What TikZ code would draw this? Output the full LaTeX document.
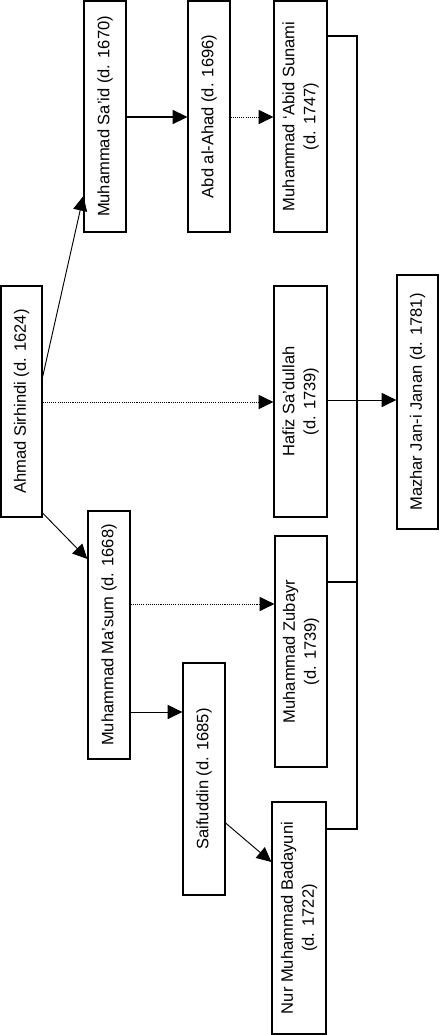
\documentclass[tikz,border=0pt]{standalone}
\usepackage{fontspec}
\setmainfont{Liberation Sans}
\usetikzlibrary{arrows.meta}

\tikzset{
  person/.style 2 args={draw, line width=0.9pt, rotate=90, align=center, inner sep=0pt,
    minimum width=#1*0.75pt, minimum height=#2*0.75pt,
    font=\fontsize{12.4}{15.75}\selectfont},
  tip/.style={-{Triangle[length=11pt,width=10.5pt]}, line width=0.7pt},
  faint/.style={dash pattern=on 0.8pt off 0.8pt},
  bus/.style={line width=0.9pt}
}

\begin{document}
\begin{tikzpicture}[x=0.75pt,y=-0.75pt]
        \useasboundingbox (0,0) rectangle (440,1035);

        \node[person={231}{42}] (said) at (105,116.5) {Muhammad Sa’id (d. 1670)};
        \node[person={231}{42}] (ahad) at (209,116.5) {Abd al-Ahad (d. 1696)};
        \node[person={231}{53}] (sunami) at (300.5,116.5) {Muhammad ‘Abid Sunami\\(d. 1747)};
        \node[person={231}{41}] (sirhindi) at (21.5,401.5) {Ahmad Sirhindi (d. 1624)};
        \node[person={231}{53}] (hafiz) at (300.5,401.5) {Hafiz Sa’dullah\\(d. 1739)};
        \node[person={254}{41}] (mazhar) at (417.5,402) {Mazhar Jan-i Janan (d. 1781)};
        \node[person={248}{42}] (masum) at (109,635) {Muhammad Ma’sum (d. 1668)};
        \node[person={231}{52}] (zubayr) at (301,651.5) {Muhammad Zubayr\\(d. 1739)};
        \node[person={232}{42}] (saif) at (204,779) {Saifuddin (d. 1685)};
        \node[person={232}{54}] (nur) at (299,918) {Nur Muhammad Badayuni\\(d. 1722)};

        \coordinate (top) at (357,36);
        \coordinate (mid) at (357,582);
        \coordinate (bottom) at (357,829);

        % lines of descent
        \path [tip] (sirhindi.south |- 0,377) edge (said.north |- 0,196);
        \path [tip, line width=1.2pt] (said.south |- 0,117) edge (ahad.north |- 0,117);
        \path [tip, faint] (ahad.south |- 0,117) edge (sunami.north |- 0,117);
        \path [tip, faint] (sirhindi.south |- 0,402) edge (hafiz.north |- 0,402);
        \path [tip] (sirhindi.south |- 0,513) edge (masum.north |- 0,559);
        \path [tip, faint] (masum.south |- 0,604) edge (zubayr.north |- 0,604);
        \path [tip] (masum.south |- 0,712) edge (saif.north |- 0,712);
        \path [tip] (saif.south |- 0,823) edge (nur.north |- 0,862);

        % joined to Mazhar
        \draw [bus] (sunami.south |- top) -- (top) -- (bottom) -- (nur.south |- bottom);
        \draw [bus] (zubayr.south |- mid) -- (mid);
        \path [tip] (hafiz.south |- 0,400) edge (mazhar.north |- 0,400);
\end{tikzpicture}
\end{document}
